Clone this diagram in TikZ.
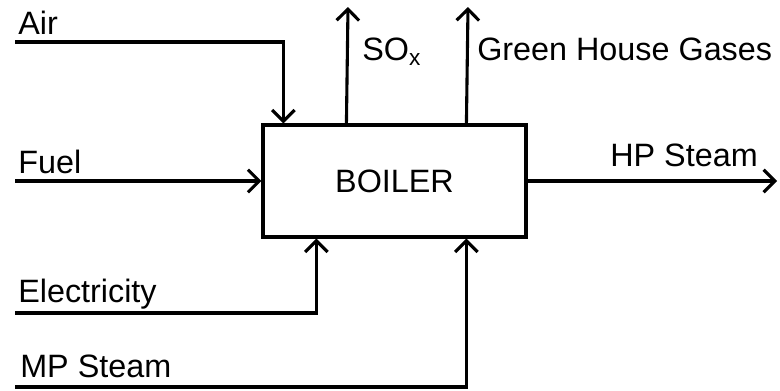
\documentclass[tikz,border=0pt]{standalone}
\usepackage{fontspec}
\setmainfont{Liberation Sans}
\usetikzlibrary{arrows.meta,calc}

\begin{document}
\begin{tikzpicture}[x=0.025cm,y=-0.025cm,
 font=\fontsize{23}{27}\selectfont,
 flow/.style={line width=2.2pt,-{Straight Barb[length=8pt,width=16pt,line width=2.2pt]}},
 lbl/.style={anchor=base west,inner sep=0pt}]
\useasboundingbox (0,0) rectangle (780,390);
\node[draw,line width=2.2pt,minimum width=6.575cm,minimum height=2.8cm,inner sep=0pt] (boiler) at (394.5,181) {BOILER};
% free ends of the streams
\coordinate (air) at (15,42);
\coordinate (fuel) at (15,181);
\coordinate (elec) at (15,313);
\coordinate (mps) at (15,387);
\coordinate (sox) at (348,7);
\coordinate (ghg) at (468,7);
\coordinate (hps) at (777,181);
% inputs
\draw[flow] (air) -| ($(boiler.north west)+(22,0)$);
\draw[flow] (fuel) -- (boiler.west);
\draw[flow] (elec) -| ($(boiler.south west)+(55,0)$);
\draw[flow] (mps) -| ($(boiler.south west)+(205,0)$);
% outputs
\draw[flow] ($(boiler.north west)+(85,0)$) -- (sox);
\draw[flow] ($(boiler.north west)+(205,0)$) -- (ghg);
\draw[flow] (boiler.east) -- (hps);
% labels
\node[lbl] (airlbl) at (18,34) {Air};
\node[lbl] (fuellbl) at (18,173) {Fuel};
\node[lbl] (eleclbl) at (18,302) {Electricity};
\node[lbl] (mpslbl) at (20,377) {MP Steam};
\node[lbl] (soxlbl) at (362,60) {SO\textsubscript{x}};
\node[lbl] (ghglbl) at (477,60) {Green House Gases};
\node[lbl,anchor=base east] (hpslbl) at (758,166) {HP Steam};
\end{tikzpicture}
\end{document}
